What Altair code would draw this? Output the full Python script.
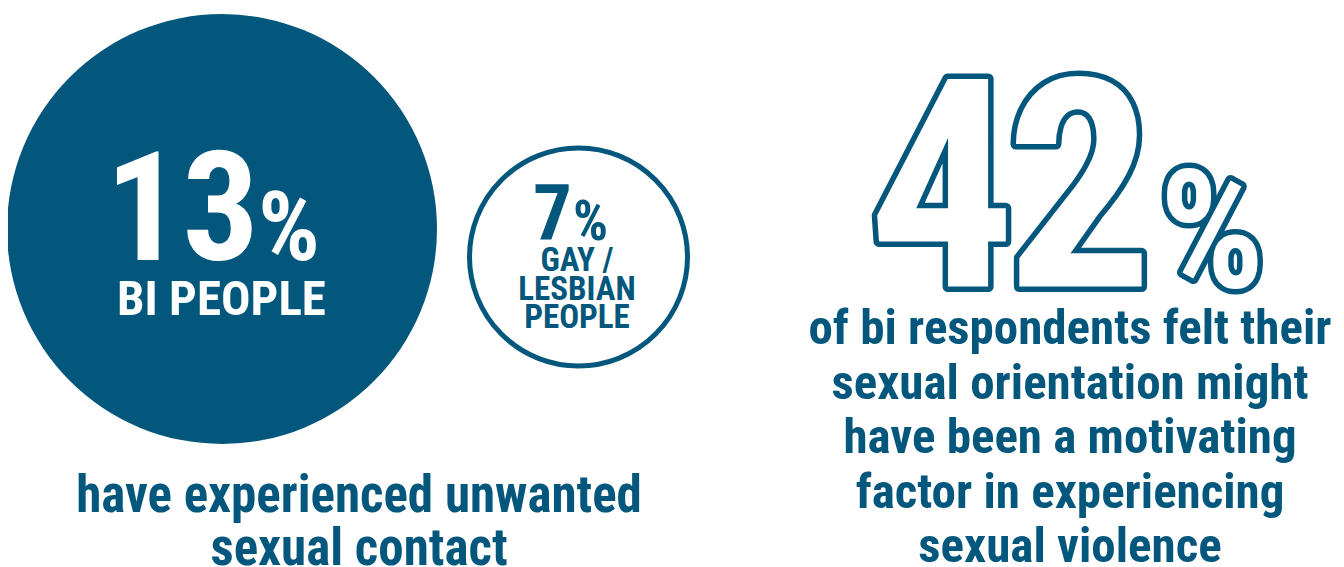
import altair as alt
import pandas as pd

# ---- data ----
groups = ["BI PEOPLE", "GAY / LESBIAN PEOPLE"]
group_values = [13, 7]
group_label_lines = [["BI PEOPLE"], ["GAY /", "LESBIAN", "PEOPLE"]]
left_caption = ["have experienced unwanted", "sexual contact"]
motivation_value = [42]
right_caption = [
    "of bi respondents felt their",
    "sexual orientation might",
    "have been a motivating",
    "factor in experiencing",
    "sexual violence",
]

# ---- style ----
BLUE = "#03577C"
FONT = "Roboto Condensed, Liberation Sans Narrow, DejaVu Sans Condensed, sans-serif"
W, H = 1328, 559

df = pd.DataFrame({"group": groups, "value": group_values})
df42 = pd.DataFrame({"value": motivation_value})

base = alt.Chart(df)
bi = base.transform_filter(alt.datum.group == groups[0])
gl = base.transform_filter(alt.datum.group == groups[1])

xs = alt.X("group:N", scale=alt.Scale(domain=groups, range=[214, 570.5], padding=0), axis=None)
ys = alt.Y("group:N", scale=alt.Scale(domain=groups, range=[221, 249], padding=0), axis=None)
size = alt.Size("value:Q", scale=alt.Scale(domain=[7, 13], range=[47524, 184900], zero=False), legend=None)

big_circle = bi.mark_point(
    shape="circle", filled=True, fill=BLUE, opacity=1, strokeWidth=0
).encode(x=xs, y=ys, size=size)

small_circle = gl.mark_point(
    shape="circle", filled=False, stroke=BLUE, strokeWidth=5, opacity=1
).encode(x=xs, y=ys, size=size)

# 13%
big_num = bi.mark_text(
    font=FONT, fontWeight="bold", fontSize=152, color="white", align="right", baseline="alphabetic"
).encode(x=alt.value(251), y=alt.value(252), text=alt.Text("value:Q"))
big_pct = bi.mark_text(
    font=FONT, fontWeight="bold", fontSize=97, color="white", align="left", baseline="alphabetic", text="%"
).encode(x=alt.value(250), y=alt.value(252))
big_lab = bi.mark_text(
    font=FONT, fontWeight="bold", fontSize=49, color="white", align="center", baseline="alphabetic",
    text=group_label_lines[0]
).encode(x=alt.value(213.5), y=alt.value(307))

# 7%
small_num = gl.mark_text(
    font=FONT, fontWeight="bold", fontSize=77, color=BLUE, align="right", baseline="alphabetic"
).encode(x=alt.value(564), y=alt.value(232), text=alt.Text("value:Q"))
small_pct = gl.mark_text(
    font=FONT, fontWeight="bold", fontSize=55, color=BLUE, align="left", baseline="alphabetic", text="%"
).encode(x=alt.value(565), y=alt.value(232))
small_lab = gl.mark_text(
    font=FONT, fontWeight="bold", fontSize=33, color=BLUE, align="center", baseline="alphabetic",
    lineHeight=28.5, text=group_label_lines[1]
).encode(x=alt.value(569), y=alt.value(263))

left_text = bi.mark_text(
    font=FONT, fontWeight="bold", fontSize=51, color=BLUE, align="center", baseline="alphabetic",
    lineHeight=53, text=left_caption
).encode(x=alt.value(351), y=alt.value(504))

# 42% (outlined: thick stroke underneath, white fill on top); digits placed individually
b42 = alt.Chart(df42).transform_calculate(
    d1="substring(toString(datum.value), 0, 1)",
    d2="substring(toString(datum.value), 1, 2)",
)
num_style = dict(font=FONT, fontWeight="bold", fontSize=292, align="center", baseline="alphabetic")
pct_style = dict(font=FONT, fontWeight="bold", fontSize=165, align="center", baseline="alphabetic", text="%")
outline = dict(fill=BLUE, stroke=BLUE, strokeWidth=11, strokeJoin="round")
inner = dict(fill="white", strokeWidth=0)

layers42 = []
for field, xpos in (("d1", 934), ("d2", 1071.5)):
    for st in (outline, inner):
        layers42.append(
            b42.mark_text(**st, **num_style).encode(
                x=alt.value(xpos), y=alt.value(278.5), text=alt.Text(f"{field}:N"))
        )
for st in (outline, inner):
    layers42.append(
        b42.mark_text(**st, **pct_style).encode(x=alt.value(1204), y=alt.value(279))
    )

right_text = b42.mark_text(
    font=FONT, fontWeight="bold", fontSize=49, color=BLUE, align="center", baseline="alphabetic",
    lineHeight=54.5, text=right_caption
).encode(x=alt.value(1062), y=alt.value(336))

chart = alt.layer(
    big_circle, small_circle, big_num, big_pct, big_lab, small_num, small_pct, small_lab,
    left_text, *layers42, right_text
).properties(
    width=W, height=H, padding=0, autosize=alt.AutoSizeParams(type="none"), background="white"
).configure_view(strokeWidth=0)

chart.save("out.html", embed_options={"renderer": "svg", "actions": False})
